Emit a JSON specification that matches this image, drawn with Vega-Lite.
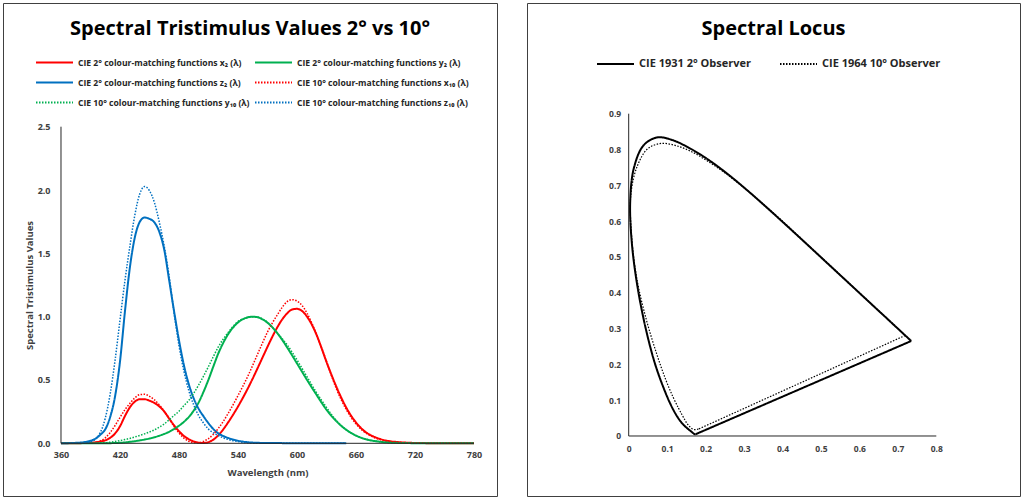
{
  "$schema": "https://vega.github.io/schema/vega-lite/v6.json",
  "padding": {"left": 2, "top": 2, "right": 0, "bottom": 0},
  "background": "white",
  "spacing": 28,
  "resolve": {"scale": {"color": "independent", "strokeDash": "independent"}, "legend": {"color": "independent", "strokeDash": "independent"}},
  "config": {
    "font": "Open Sans",
    "view": {"stroke": "#404040", "strokeWidth": 1},
    "axis": {"grid": false, "domain": false, "ticks": false, "labelFont": "Open Sans", "labelFontWeight": "bold", "labelColor": "#404040", "labelFontSize": 9, "titleFont": "Open Sans", "titleFontWeight": "bold", "titleFontSize": 9.5, "titleColor": "#404040"},
    "title": {"font": "Open Sans", "fontWeight": "bold", "fontSize": 20, "color": "#000000", "anchor": "middle", "frame": "group"},
    "legend": {"labelFont": "Open Sans", "labelFontWeight": "bold", "labelColor": "#262626", "symbolType": "stroke", "symbolSize": 1369, "symbolStrokeWidth": 2, "labelOffset": 4, "labelLimit": 400, "clipHeight": 11}
  },
  "datasets": {
    "cmf": [
      {"wl": 360, "x2": 0.00013, "y2": 0.000004, "z2": 0.000606, "x10": 0, "y10": 0, "z10": 0.000001},
      {"wl": 365, "x2": 0.000232, "y2": 0.000007, "z2": 0.001086, "x10": 0.000001, "y10": 0, "z10": 0.000004},
      {"wl": 370, "x2": 0.000415, "y2": 0.000012, "z2": 0.001946, "x10": 0.000006, "y10": 0.000001, "z10": 0.000026},
      {"wl": 375, "x2": 0.000742, "y2": 0.000022, "z2": 0.003486, "x10": 0.000033, "y10": 0.000004, "z10": 0.000147},
      {"wl": 380, "x2": 0.001368, "y2": 0.000039, "z2": 0.00645, "x10": 0.00016, "y10": 0.000017, "z10": 0.000705},
      {"wl": 385, "x2": 0.002236, "y2": 0.000064, "z2": 0.01055, "x10": 0.000662, "y10": 0.000072, "z10": 0.002928},
      {"wl": 390, "x2": 0.004243, "y2": 0.00012, "z2": 0.02005, "x10": 0.002362, "y10": 0.000253, "z10": 0.010482},
      {"wl": 395, "x2": 0.00765, "y2": 0.000217, "z2": 0.03621, "x10": 0.007242, "y10": 0.000769, "z10": 0.032344},
      {"wl": 400, "x2": 0.01431, "y2": 0.000396, "z2": 0.06785, "x10": 0.01911, "y10": 0.002004, "z10": 0.086011},
      {"wl": 405, "x2": 0.02319, "y2": 0.00064, "z2": 0.1102, "x10": 0.0434, "y10": 0.004509, "z10": 0.19712},
      {"wl": 410, "x2": 0.04351, "y2": 0.00121, "z2": 0.2074, "x10": 0.084736, "y10": 0.008756, "z10": 0.389366},
      {"wl": 415, "x2": 0.07763, "y2": 0.00218, "z2": 0.3713, "x10": 0.140638, "y10": 0.014456, "z10": 0.65676},
      {"wl": 420, "x2": 0.13438, "y2": 0.004, "z2": 0.6456, "x10": 0.204492, "y10": 0.021391, "z10": 0.972542},
      {"wl": 425, "x2": 0.21477, "y2": 0.0073, "z2": 1.03905, "x10": 0.264737, "y10": 0.029497, "z10": 1.2825},
      {"wl": 430, "x2": 0.2839, "y2": 0.0116, "z2": 1.3856, "x10": 0.314679, "y10": 0.038676, "z10": 1.55348},
      {"wl": 435, "x2": 0.3285, "y2": 0.01684, "z2": 1.62296, "x10": 0.357719, "y10": 0.049602, "z10": 1.7985},
      {"wl": 440, "x2": 0.34828, "y2": 0.023, "z2": 1.74706, "x10": 0.383734, "y10": 0.062077, "z10": 1.96728},
      {"wl": 445, "x2": 0.34806, "y2": 0.0298, "z2": 1.7826, "x10": 0.386726, "y10": 0.074704, "z10": 2.0273},
      {"wl": 450, "x2": 0.3362, "y2": 0.038, "z2": 1.77211, "x10": 0.370702, "y10": 0.089456, "z10": 1.9948},
      {"wl": 455, "x2": 0.3187, "y2": 0.048, "z2": 1.7441, "x10": 0.342957, "y10": 0.106256, "z10": 1.9007},
      {"wl": 460, "x2": 0.2908, "y2": 0.06, "z2": 1.6692, "x10": 0.302273, "y10": 0.128201, "z10": 1.74537},
      {"wl": 465, "x2": 0.2511, "y2": 0.0739, "z2": 1.5281, "x10": 0.254085, "y10": 0.152761, "z10": 1.5549},
      {"wl": 470, "x2": 0.19536, "y2": 0.09098, "z2": 1.28764, "x10": 0.195618, "y10": 0.18519, "z10": 1.31756},
      {"wl": 475, "x2": 0.1421, "y2": 0.1126, "z2": 1.0419, "x10": 0.132349, "y10": 0.21994, "z10": 1.0302},
      {"wl": 480, "x2": 0.09564, "y2": 0.13902, "z2": 0.81295, "x10": 0.080507, "y10": 0.253589, "z10": 0.772125},
      {"wl": 485, "x2": 0.05795, "y2": 0.1693, "z2": 0.6162, "x10": 0.041072, "y10": 0.297665, "z10": 0.57006},
      {"wl": 490, "x2": 0.03201, "y2": 0.20802, "z2": 0.46518, "x10": 0.016172, "y10": 0.339133, "z10": 0.415254},
      {"wl": 495, "x2": 0.0147, "y2": 0.2586, "z2": 0.3533, "x10": 0.005132, "y10": 0.395379, "z10": 0.302356},
      {"wl": 500, "x2": 0.0049, "y2": 0.323, "z2": 0.272, "x10": 0.003816, "y10": 0.460777, "z10": 0.218502},
      {"wl": 505, "x2": 0.0024, "y2": 0.4073, "z2": 0.2123, "x10": 0.015444, "y10": 0.53136, "z10": 0.159249},
      {"wl": 510, "x2": 0.0093, "y2": 0.503, "z2": 0.1582, "x10": 0.037465, "y10": 0.606741, "z10": 0.112044},
      {"wl": 515, "x2": 0.0291, "y2": 0.6082, "z2": 0.1117, "x10": 0.071358, "y10": 0.68566, "z10": 0.082248},
      {"wl": 520, "x2": 0.06327, "y2": 0.71, "z2": 0.07825, "x10": 0.117749, "y10": 0.761757, "z10": 0.060709},
      {"wl": 525, "x2": 0.1096, "y2": 0.7932, "z2": 0.05725, "x10": 0.172953, "y10": 0.82333, "z10": 0.04305},
      {"wl": 530, "x2": 0.1655, "y2": 0.862, "z2": 0.04216, "x10": 0.236491, "y10": 0.875211, "z10": 0.030451},
      {"wl": 535, "x2": 0.22575, "y2": 0.91485, "z2": 0.02984, "x10": 0.304213, "y10": 0.92381, "z10": 0.020584},
      {"wl": 540, "x2": 0.2904, "y2": 0.954, "z2": 0.0203, "x10": 0.376772, "y10": 0.961988, "z10": 0.013676},
      {"wl": 545, "x2": 0.3597, "y2": 0.9803, "z2": 0.0134, "x10": 0.451584, "y10": 0.9822, "z10": 0.007918},
      {"wl": 550, "x2": 0.43345, "y2": 0.99495, "z2": 0.00875, "x10": 0.529826, "y10": 0.991761, "z10": 0.003988},
      {"wl": 555, "x2": 0.51205, "y2": 1.0, "z2": 0.00575, "x10": 0.616053, "y10": 0.99911, "z10": 0.001091},
      {"wl": 560, "x2": 0.5945, "y2": 0.995, "z2": 0.0039, "x10": 0.705224, "y10": 0.99734, "z10": 0},
      {"wl": 565, "x2": 0.6784, "y2": 0.9786, "z2": 0.00275, "x10": 0.793832, "y10": 0.98238, "z10": 0},
      {"wl": 570, "x2": 0.7621, "y2": 0.952, "z2": 0.0021, "x10": 0.878655, "y10": 0.955552, "z10": 0},
      {"wl": 575, "x2": 0.8425, "y2": 0.9154, "z2": 0.0018, "x10": 0.951162, "y10": 0.915175, "z10": 0},
      {"wl": 580, "x2": 0.9163, "y2": 0.87, "z2": 0.00165, "x10": 1.01416, "y10": 0.868934, "z10": 0},
      {"wl": 585, "x2": 0.9786, "y2": 0.8163, "z2": 0.0014, "x10": 1.0743, "y10": 0.825623, "z10": 0},
      {"wl": 590, "x2": 1.0263, "y2": 0.757, "z2": 0.0011, "x10": 1.11852, "y10": 0.777405, "z10": 0},
      {"wl": 595, "x2": 1.0567, "y2": 0.6949, "z2": 0.001, "x10": 1.1343, "y10": 0.720353, "z10": 0},
      {"wl": 600, "x2": 1.0622, "y2": 0.631, "z2": 0.0008, "x10": 1.12399, "y10": 0.658341, "z10": 0},
      {"wl": 605, "x2": 1.0456, "y2": 0.5668, "z2": 0.0006, "x10": 1.0891, "y10": 0.593878, "z10": 0},
      {"wl": 610, "x2": 1.0026, "y2": 0.503, "z2": 0.00034, "x10": 1.03048, "y10": 0.527963, "z10": 0},
      {"wl": 615, "x2": 0.9384, "y2": 0.4412, "z2": 0.00024, "x10": 0.95074, "y10": 0.461834, "z10": 0},
      {"wl": 620, "x2": 0.85445, "y2": 0.381, "z2": 0.00019, "x10": 0.856297, "y10": 0.398057, "z10": 0},
      {"wl": 625, "x2": 0.7514, "y2": 0.321, "z2": 0.0001, "x10": 0.75493, "y10": 0.339554, "z10": 0},
      {"wl": 630, "x2": 0.6424, "y2": 0.265, "z2": 0.00005, "x10": 0.647467, "y10": 0.283493, "z10": 0},
      {"wl": 635, "x2": 0.5419, "y2": 0.217, "z2": 0.00003, "x10": 0.53511, "y10": 0.228254, "z10": 0},
      {"wl": 640, "x2": 0.4479, "y2": 0.175, "z2": 0.00002, "x10": 0.431567, "y10": 0.179828, "z10": 0},
      {"wl": 645, "x2": 0.3608, "y2": 0.1382, "z2": 0.00001, "x10": 0.34369, "y10": 0.140211, "z10": 0},
      {"wl": 650, "x2": 0.2835, "y2": 0.107, "z2": 0, "x10": 0.268329, "y10": 0.107633, "z10": 0},
      {"wl": 655, "x2": 0.2187, "y2": 0.0816, "z2": null, "x10": 0.2043, "y10": 0.081187, "z10": null},
      {"wl": 660, "x2": 0.1649, "y2": 0.061, "z2": null, "x10": 0.152568, "y10": 0.060281, "z10": null},
      {"wl": 665, "x2": 0.1212, "y2": 0.04458, "z2": null, "x10": 0.11221, "y10": 0.044096, "z10": null},
      {"wl": 670, "x2": 0.0874, "y2": 0.032, "z2": null, "x10": 0.081261, "y10": 0.0318, "z10": null},
      {"wl": 675, "x2": 0.0636, "y2": 0.0232, "z2": null, "x10": 0.05793, "y10": 0.022602, "z10": null},
      {"wl": 680, "x2": 0.04677, "y2": 0.017, "z2": null, "x10": 0.040851, "y10": 0.015905, "z10": null},
      {"wl": 685, "x2": 0.0329, "y2": 0.01192, "z2": null, "x10": 0.028623, "y10": 0.01113, "z10": null},
      {"wl": 690, "x2": 0.0227, "y2": 0.00821, "z2": null, "x10": 0.019941, "y10": 0.007749, "z10": null},
      {"wl": 695, "x2": 0.01584, "y2": 0.005723, "z2": null, "x10": 0.013842, "y10": 0.005375, "z10": null},
      {"wl": 700, "x2": 0.011359, "y2": 0.004102, "z2": null, "x10": 0.009577, "y10": 0.003718, "z10": null},
      {"wl": 705, "x2": 0.008111, "y2": 0.002929, "z2": null, "x10": 0.006605, "y10": 0.002565, "z10": null},
      {"wl": 710, "x2": 0.00579, "y2": 0.002091, "z2": null, "x10": 0.004553, "y10": 0.001768, "z10": null},
      {"wl": 715, "x2": 0.004109, "y2": 0.001484, "z2": null, "x10": 0.003145, "y10": 0.001222, "z10": null},
      {"wl": 720, "x2": 0.002899, "y2": 0.001047, "z2": null, "x10": 0.002175, "y10": 0.000846, "z10": null},
      {"wl": 725, "x2": 0.002049, "y2": 0.00074, "z2": null, "x10": 0.001506, "y10": 0.000586, "z10": null},
      {"wl": 730, "x2": 0.00144, "y2": 0.00052, "z2": null, "x10": 0.001045, "y10": 0.000407, "z10": null},
      {"wl": 735, "x2": 0.001, "y2": 0.000361, "z2": null, "x10": 0.000727, "y10": 0.000284, "z10": null},
      {"wl": 740, "x2": 0.00069, "y2": 0.000249, "z2": null, "x10": 0.000508, "y10": 0.000199, "z10": null},
      {"wl": 745, "x2": 0.000476, "y2": 0.000172, "z2": null, "x10": 0.000356, "y10": 0.00014, "z10": null},
      {"wl": 750, "x2": 0.000332, "y2": 0.00012, "z2": null, "x10": 0.000251, "y10": 0.000098, "z10": null},
      {"wl": 755, "x2": 0.000235, "y2": 0.000085, "z2": null, "x10": 0.000178, "y10": 0.00007, "z10": null},
      {"wl": 760, "x2": 0.000166, "y2": 0.00006, "z2": null, "x10": 0.000126, "y10": 0.00005, "z10": null},
      {"wl": 765, "x2": 0.000117, "y2": 0.000042, "z2": null, "x10": 0.00009, "y10": 0.000036, "z10": null},
      {"wl": 770, "x2": 0.000083, "y2": 0.00003, "z2": null, "x10": 0.000065, "y10": 0.000025, "z10": null},
      {"wl": 775, "x2": 0.000059, "y2": 0.000021, "z2": null, "x10": 0.000046, "y10": 0.000018, "z10": null},
      {"wl": 780, "x2": 0.000042, "y2": 0.000015, "z2": null, "x10": 0.000033, "y10": 0.000013, "z10": null}
    ],
    "locus2": [
      {"obs": "CIE 1931 2° Observer", "i": 0, "x": 0.1741, "y": 0.005},
      {"obs": "CIE 1931 2° Observer", "i": 1, "x": 0.1738, "y": 0.0049},
      {"obs": "CIE 1931 2° Observer", "i": 2, "x": 0.1733, "y": 0.0048},
      {"obs": "CIE 1931 2° Observer", "i": 3, "x": 0.1726, "y": 0.0048},
      {"obs": "CIE 1931 2° Observer", "i": 4, "x": 0.1714, "y": 0.0051},
      {"obs": "CIE 1931 2° Observer", "i": 5, "x": 0.1703, "y": 0.0058},
      {"obs": "CIE 1931 2° Observer", "i": 6, "x": 0.1689, "y": 0.0069},
      {"obs": "CIE 1931 2° Observer", "i": 7, "x": 0.1669, "y": 0.0086},
      {"obs": "CIE 1931 2° Observer", "i": 8, "x": 0.1644, "y": 0.0109},
      {"obs": "CIE 1931 2° Observer", "i": 9, "x": 0.1611, "y": 0.0138},
      {"obs": "CIE 1931 2° Observer", "i": 10, "x": 0.1566, "y": 0.0177},
      {"obs": "CIE 1931 2° Observer", "i": 11, "x": 0.151, "y": 0.0227},
      {"obs": "CIE 1931 2° Observer", "i": 12, "x": 0.144, "y": 0.0297},
      {"obs": "CIE 1931 2° Observer", "i": 13, "x": 0.1355, "y": 0.0399},
      {"obs": "CIE 1931 2° Observer", "i": 14, "x": 0.1241, "y": 0.0578},
      {"obs": "CIE 1931 2° Observer", "i": 15, "x": 0.1096, "y": 0.0868},
      {"obs": "CIE 1931 2° Observer", "i": 16, "x": 0.0913, "y": 0.1327},
      {"obs": "CIE 1931 2° Observer", "i": 17, "x": 0.0687, "y": 0.2007},
      {"obs": "CIE 1931 2° Observer", "i": 18, "x": 0.0454, "y": 0.295},
      {"obs": "CIE 1931 2° Observer", "i": 19, "x": 0.0235, "y": 0.4127},
      {"obs": "CIE 1931 2° Observer", "i": 20, "x": 0.0082, "y": 0.5384},
      {"obs": "CIE 1931 2° Observer", "i": 21, "x": 0.0039, "y": 0.6548},
      {"obs": "CIE 1931 2° Observer", "i": 22, "x": 0.0139, "y": 0.7502},
      {"obs": "CIE 1931 2° Observer", "i": 23, "x": 0.0389, "y": 0.812},
      {"obs": "CIE 1931 2° Observer", "i": 24, "x": 0.0743, "y": 0.8338},
      {"obs": "CIE 1931 2° Observer", "i": 25, "x": 0.1142, "y": 0.8262},
      {"obs": "CIE 1931 2° Observer", "i": 26, "x": 0.1547, "y": 0.8059},
      {"obs": "CIE 1931 2° Observer", "i": 27, "x": 0.1929, "y": 0.7816},
      {"obs": "CIE 1931 2° Observer", "i": 28, "x": 0.2296, "y": 0.7543},
      {"obs": "CIE 1931 2° Observer", "i": 29, "x": 0.2658, "y": 0.7243},
      {"obs": "CIE 1931 2° Observer", "i": 30, "x": 0.3016, "y": 0.6923},
      {"obs": "CIE 1931 2° Observer", "i": 31, "x": 0.3373, "y": 0.6589},
      {"obs": "CIE 1931 2° Observer", "i": 32, "x": 0.3731, "y": 0.6245},
      {"obs": "CIE 1931 2° Observer", "i": 33, "x": 0.4087, "y": 0.5896},
      {"obs": "CIE 1931 2° Observer", "i": 34, "x": 0.4441, "y": 0.5547},
      {"obs": "CIE 1931 2° Observer", "i": 35, "x": 0.4788, "y": 0.5202},
      {"obs": "CIE 1931 2° Observer", "i": 36, "x": 0.5125, "y": 0.4866},
      {"obs": "CIE 1931 2° Observer", "i": 37, "x": 0.5448, "y": 0.4544},
      {"obs": "CIE 1931 2° Observer", "i": 38, "x": 0.5752, "y": 0.4242},
      {"obs": "CIE 1931 2° Observer", "i": 39, "x": 0.6029, "y": 0.3965},
      {"obs": "CIE 1931 2° Observer", "i": 40, "x": 0.627, "y": 0.3725},
      {"obs": "CIE 1931 2° Observer", "i": 41, "x": 0.6482, "y": 0.3514},
      {"obs": "CIE 1931 2° Observer", "i": 42, "x": 0.6658, "y": 0.334},
      {"obs": "CIE 1931 2° Observer", "i": 43, "x": 0.6801, "y": 0.3197},
      {"obs": "CIE 1931 2° Observer", "i": 44, "x": 0.6915, "y": 0.3083},
      {"obs": "CIE 1931 2° Observer", "i": 45, "x": 0.7006, "y": 0.2993},
      {"obs": "CIE 1931 2° Observer", "i": 46, "x": 0.7079, "y": 0.292},
      {"obs": "CIE 1931 2° Observer", "i": 47, "x": 0.714, "y": 0.2859},
      {"obs": "CIE 1931 2° Observer", "i": 48, "x": 0.719, "y": 0.2809},
      {"obs": "CIE 1931 2° Observer", "i": 49, "x": 0.723, "y": 0.277},
      {"obs": "CIE 1931 2° Observer", "i": 50, "x": 0.726, "y": 0.274},
      {"obs": "CIE 1931 2° Observer", "i": 51, "x": 0.73, "y": 0.27},
      {"obs": "CIE 1931 2° Observer", "i": 52, "x": 0.732, "y": 0.268},
      {"obs": "CIE 1931 2° Observer", "i": 53, "x": 0.7334, "y": 0.2666},
      {"obs": "CIE 1931 2° Observer", "i": 54, "x": 0.7344, "y": 0.2656},
      {"obs": "CIE 1931 2° Observer", "i": 55, "x": 0.7347, "y": 0.2653},
      {"obs": "CIE 1931 2° Observer", "i": 56, "x": 0.1741, "y": 0.005}
    ],
    "locus10": [
      {"obs": "CIE 1964 10° Observer", "i": 0, "x": 0.1814, "y": 0.0193},
      {"obs": "CIE 1964 10° Observer", "i": 1, "x": 0.1803, "y": 0.0193},
      {"obs": "CIE 1964 10° Observer", "i": 2, "x": 0.1784, "y": 0.0187},
      {"obs": "CIE 1964 10° Observer", "i": 3, "x": 0.1755, "y": 0.0181},
      {"obs": "CIE 1964 10° Observer", "i": 4, "x": 0.1706, "y": 0.0178},
      {"obs": "CIE 1964 10° Observer", "i": 5, "x": 0.165, "y": 0.0203},
      {"obs": "CIE 1964 10° Observer", "i": 6, "x": 0.159, "y": 0.0257},
      {"obs": "CIE 1964 10° Observer", "i": 7, "x": 0.1554, "y": 0.03},
      {"obs": "CIE 1964 10° Observer", "i": 8, "x": 0.151, "y": 0.0364},
      {"obs": "CIE 1964 10° Observer", "i": 9, "x": 0.1459, "y": 0.0452},
      {"obs": "CIE 1964 10° Observer", "i": 10, "x": 0.1389, "y": 0.0589},
      {"obs": "CIE 1964 10° Observer", "i": 11, "x": 0.1295, "y": 0.0779},
      {"obs": "CIE 1964 10° Observer", "i": 12, "x": 0.1152, "y": 0.109},
      {"obs": "CIE 1964 10° Observer", "i": 13, "x": 0.0957, "y": 0.1591},
      {"obs": "CIE 1964 10° Observer", "i": 14, "x": 0.0728, "y": 0.2292},
      {"obs": "CIE 1964 10° Observer", "i": 15, "x": 0.0452, "y": 0.3275},
      {"obs": "CIE 1964 10° Observer", "i": 16, "x": 0.021, "y": 0.4401},
      {"obs": "CIE 1964 10° Observer", "i": 17, "x": 0.0073, "y": 0.5625},
      {"obs": "CIE 1964 10° Observer", "i": 18, "x": 0.0056, "y": 0.6745},
      {"obs": "CIE 1964 10° Observer", "i": 19, "x": 0.0219, "y": 0.7526},
      {"obs": "CIE 1964 10° Observer", "i": 20, "x": 0.0495, "y": 0.8023},
      {"obs": "CIE 1964 10° Observer", "i": 21, "x": 0.085, "y": 0.817},
      {"obs": "CIE 1964 10° Observer", "i": 22, "x": 0.1252, "y": 0.8102},
      {"obs": "CIE 1964 10° Observer", "i": 23, "x": 0.1664, "y": 0.7922},
      {"obs": "CIE 1964 10° Observer", "i": 24, "x": 0.2071, "y": 0.7663},
      {"obs": "CIE 1964 10° Observer", "i": 25, "x": 0.2436, "y": 0.7399},
      {"obs": "CIE 1964 10° Observer", "i": 26, "x": 0.2786, "y": 0.7113},
      {"obs": "CIE 1964 10° Observer", "i": 27, "x": 0.3132, "y": 0.6813},
      {"obs": "CIE 1964 10° Observer", "i": 28, "x": 0.3473, "y": 0.6501},
      {"obs": "CIE 1964 10° Observer", "i": 29, "x": 0.3812, "y": 0.6182},
      {"obs": "CIE 1964 10° Observer", "i": 30, "x": 0.4142, "y": 0.5858},
      {"obs": "CIE 1964 10° Observer", "i": 31, "x": 0.4469, "y": 0.5531},
      {"obs": "CIE 1964 10° Observer", "i": 32, "x": 0.479, "y": 0.521},
      {"obs": "CIE 1964 10° Observer", "i": 33, "x": 0.5096, "y": 0.4904},
      {"obs": "CIE 1964 10° Observer", "i": 34, "x": 0.5386, "y": 0.4614},
      {"obs": "CIE 1964 10° Observer", "i": 35, "x": 0.5654, "y": 0.4346},
      {"obs": "CIE 1964 10° Observer", "i": 36, "x": 0.59, "y": 0.41},
      {"obs": "CIE 1964 10° Observer", "i": 37, "x": 0.6116, "y": 0.3884},
      {"obs": "CIE 1964 10° Observer", "i": 38, "x": 0.6306, "y": 0.3694},
      {"obs": "CIE 1964 10° Observer", "i": 39, "x": 0.6471, "y": 0.3529},
      {"obs": "CIE 1964 10° Observer", "i": 40, "x": 0.6612, "y": 0.3388},
      {"obs": "CIE 1964 10° Observer", "i": 41, "x": 0.6731, "y": 0.3269},
      {"obs": "CIE 1964 10° Observer", "i": 42, "x": 0.6827, "y": 0.3173},
      {"obs": "CIE 1964 10° Observer", "i": 43, "x": 0.6898, "y": 0.3102},
      {"obs": "CIE 1964 10° Observer", "i": 44, "x": 0.6955, "y": 0.3045},
      {"obs": "CIE 1964 10° Observer", "i": 45, "x": 0.7059, "y": 0.2941},
      {"obs": "CIE 1964 10° Observer", "i": 46, "x": 0.7137, "y": 0.2863},
      {"obs": "CIE 1964 10° Observer", "i": 47, "x": 0.7168, "y": 0.2832},
      {"obs": "CIE 1964 10° Observer", "i": 48, "x": 0.7187, "y": 0.2813},
      {"obs": "CIE 1964 10° Observer", "i": 49, "x": 0.7198, "y": 0.2802},
      {"obs": "CIE 1964 10° Observer", "i": 50, "x": 0.7203, "y": 0.2797},
      {"obs": "CIE 1964 10° Observer", "i": 51, "x": 0.72, "y": 0.28},
      {"obs": "CIE 1964 10° Observer", "i": 52, "x": 0.7192, "y": 0.2808},
      {"obs": "CIE 1964 10° Observer", "i": 53, "x": 0.1814, "y": 0.0193}
    ]
  },
  "hconcat": [
    {
      "width": 494,
      "height": 493,
      "title": {"text": "Spectral Tristimulus Values 2° vs 10°", "offset": -36},
      "layer": [
        {
          "data": {"name": "cmf"},
          "transform": [{"fold": ["x2", "y2", "z2"], "as": ["series", "v"]}],
          "mark": {"type": "line", "strokeWidth": 2, "interpolate": "monotone"},
          "encoding": {
            "x": {"field": "wl", "type": "quantitative", "scale": {"domain": [301.02, 803.39], "nice": false, "zero": false},
                  "axis": {"values": [360, 420, 480, 540, 600, 660, 720, 780], "offset": -52.7, "labelPadding": 7, "title": "Wavelength (nm)", "titleX": 264.5, "titleY": 29.5, "titleBaseline": "middle", "titleAlign": "center"}},
            "y": {"field": "v", "type": "quantitative", "scale": {"domain": [-0.4161, 3.4768], "nice": false, "zero": false},
                  "axis": {"values": [0, 0.5, 1, 1.5, 2, 2.5], "format": ".1f", "offset": -58, "labelPadding": 11, "title": "Spectral Tristimulus Values", "titleX": -32, "titleY": 282, "titleBaseline": "middle", "titleAlign": "center", "titleAngle": -90}},
            "color": {"field": "series", "type": "nominal",
                      "scale": {"domain": ["x2", "y2", "z2", "x10", "y10", "z10"], "range": ["#FF0000", "#00B050", "#0070C0", "#FF0000", "#00B050", "#0070C0"]},
                      "legend": {"orient": "none", "legendX": 32, "legendY": 54, "columns": 2, "direction": "horizontal", "title": null, "labelFontSize": 8.6, "rowPadding": 9, "columnPadding": 4,
                                 "labelExpr": "{'x2': 'CIE 2° colour-matching functions x₂ (λ)', 'y2': 'CIE 2° colour-matching functions y₂ (λ)', 'z2': 'CIE 2° colour-matching functions z₂ (λ)', 'x10': 'CIE 10° colour-matching functions x₁₀ (λ)', 'y10': 'CIE 10° colour-matching functions y₁₀ (λ)', 'z10': 'CIE 10° colour-matching functions z₁₀ (λ)'}[datum.label]"}},
            "strokeDash": {"field": "series", "type": "nominal",
                      "scale": {"domain": ["x2", "y2", "z2", "x10", "y10", "z10"], "range": [[1, 0], [1, 0], [1, 0], [1.5, 1.5], [1.5, 1.5], [1.5, 1.5]]},
                      "legend": {"orient": "none", "legendX": 32, "legendY": 54, "columns": 2, "direction": "horizontal", "title": null, "labelFontSize": 8.6, "rowPadding": 9, "columnPadding": 4,
                                 "labelExpr": "{'x2': 'CIE 2° colour-matching functions x₂ (λ)', 'y2': 'CIE 2° colour-matching functions y₂ (λ)', 'z2': 'CIE 2° colour-matching functions z₂ (λ)', 'x10': 'CIE 10° colour-matching functions x₁₀ (λ)', 'y10': 'CIE 10° colour-matching functions y₁₀ (λ)', 'z10': 'CIE 10° colour-matching functions z₁₀ (λ)'}[datum.label]"}}
          }
        },
        {
          "data": {"name": "cmf"},
          "transform": [{"fold": ["x10", "y10", "z10"], "as": ["series", "v"]}],
          "mark": {"type": "line", "strokeWidth": 1.5, "interpolate": "monotone"},
          "encoding": {
            "x": {"field": "wl", "type": "quantitative"},
            "y": {"field": "v", "type": "quantitative"},
            "color": {"field": "series", "type": "nominal"},
            "strokeDash": {"field": "series", "type": "nominal"}
          }
        },
        {
          "data": {"values": [{}]},
          "mark": {"type": "rule", "color": "#262626", "strokeWidth": 1},
          "encoding": {
            "x": {"datum": 360, "type": "quantitative"},
            "x2": {"datum": 780},
            "y": {"datum": 0, "type": "quantitative"}
          }
        },
        {
          "data": {"values": [{}]},
          "mark": {"type": "rule", "color": "#262626", "strokeWidth": 1},
          "encoding": {
            "x": {"datum": 360, "type": "quantitative"},
            "y": {"datum": 0, "type": "quantitative"},
            "y2": {"datum": 2.5}
          }
        }
      ]
    },
    {
      "width": 493,
      "height": 493,
      "title": {"text": "Spectral Locus", "offset": -36},
      "layer": [
        {
          "data": {"name": "locus2"},
          "transform": [{"filter": "datum.i <= 55"}],
          "mark": {"type": "line", "color": "#000000", "strokeWidth": 2, "interpolate": "catmull-rom"},
          "encoding": {
            "x": {"field": "x", "type": "quantitative", "scale": {"domain": [-0.2645, 1.01768], "nice": false, "zero": false},
                  "axis": {"values": [0, 0.1, 0.2, 0.3, 0.4, 0.5, 0.6, 0.7, 0.8], "format": "~g", "offset": -60, "labelPadding": 8, "title": null, "labelFontSize": 8.5}},
            "y": {"field": "y", "type": "quantitative", "scale": {"domain": [-0.16755, 1.20912], "nice": false, "zero": false},
                  "axis": {"values": [0, 0.1, 0.2, 0.3, 0.4, 0.5, 0.6, 0.7, 0.8, 0.9], "format": "~g", "offset": -101.7, "labelPadding": 8, "title": null, "labelFontSize": 8.5}},
            "order": {"field": "i", "type": "quantitative"},
            "strokeDash": {"field": "obs", "type": "nominal",
                           "scale": {"domain": ["CIE 1931 2° Observer", "CIE 1964 10° Observer"], "range": [[1, 0], [1.5, 1.5]]},
                           "legend": {"orient": "none", "legendX": 69, "legendY": 54, "columns": 2, "direction": "horizontal", "title": null, "labelFontSize": 11, "columnPadding": 28, "symbolStrokeColor": "#000000", "symbolStrokeWidth": 2, "clipHeight": 14}}
          }
        },
        {
          "data": {"name": "locus2"},
          "transform": [{"filter": "datum.i >= 55"}],
          "mark": {"type": "line", "color": "#000000", "strokeWidth": 2},
          "encoding": {
            "x": {"field": "x", "type": "quantitative"},
            "y": {"field": "y", "type": "quantitative"},
            "order": {"field": "i", "type": "quantitative"},
            "strokeDash": {"field": "obs", "type": "nominal"}
          }
        },
        {
          "data": {"name": "locus10"},
          "transform": [{"filter": "datum.i <= 52"}],
          "mark": {"type": "line", "color": "#000000", "strokeWidth": 1.2, "interpolate": "catmull-rom"},
          "encoding": {
            "x": {"field": "x", "type": "quantitative"},
            "y": {"field": "y", "type": "quantitative"},
            "order": {"field": "i", "type": "quantitative"},
            "strokeDash": {"field": "obs", "type": "nominal"}
          }
        },
        {
          "data": {"name": "locus10"},
          "transform": [{"filter": "datum.i >= 52"}],
          "mark": {"type": "line", "color": "#000000", "strokeWidth": 1.2},
          "encoding": {
            "x": {"field": "x", "type": "quantitative"},
            "y": {"field": "y", "type": "quantitative"},
            "order": {"field": "i", "type": "quantitative"},
            "strokeDash": {"field": "obs", "type": "nominal"}
          }
        },
        {
          "data": {"values": [{}]},
          "mark": {"type": "rule", "color": "#262626", "strokeWidth": 1},
          "encoding": {
            "x": {"datum": 0, "type": "quantitative"},
            "x2": {"datum": 0.8},
            "y": {"datum": 0, "type": "quantitative"}
          }
        },
        {
          "data": {"values": [{}]},
          "mark": {"type": "rule", "color": "#262626", "strokeWidth": 1},
          "encoding": {
            "x": {"datum": 0, "type": "quantitative"},
            "y": {"datum": 0, "type": "quantitative"},
            "y2": {"datum": 0.9}
          }
        }
      ]
    }
  ]
}
